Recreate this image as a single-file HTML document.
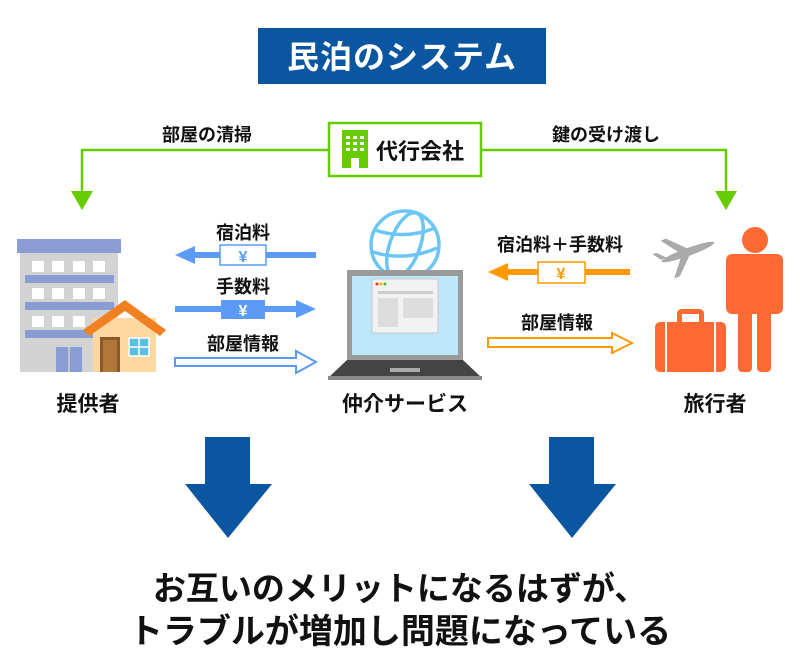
<!DOCTYPE html>
<html><head><meta charset="utf-8"><style>
html,body{margin:0;padding:0;background:#fff;}
svg{display:block;}
text{font-family:"Liberation Sans","Noto Sans CJK JP",sans-serif;font-weight:bold;fill:#111;}
</style></head><body>
<svg width="800" height="670" viewBox="0 0 800 670" xmlns="http://www.w3.org/2000/svg">
<rect x="258" y="28" width="288" height="56" fill="#0a56a0"/>
<text x="402" y="68" font-size="32" text-anchor="middle" letter-spacing="1" style="fill:#fff">民泊のシステム</text>
<polyline points="330,150 82,150 82,192" fill="none" stroke="#66cc00" stroke-width="2.5"/>
<polygon points="71,191 93,191 82,210" fill="#66cc00"/>
<polyline points="481,150 726,150 726,192" fill="none" stroke="#66cc00" stroke-width="2.5"/>
<polygon points="715,191 737,191 726,210" fill="#66cc00"/>
<rect x="329" y="123" width="152" height="53" fill="#fff" stroke="#66cc00" stroke-width="2.5"/>
<rect x="342" y="130" width="26" height="38" fill="#66cc00"/>
<g fill="#fff"><rect x="346" y="136" width="4" height="3"/><rect x="353" y="136" width="4" height="3"/><rect x="360" y="136" width="4" height="3"/>
<rect x="346" y="142" width="4" height="3"/><rect x="353" y="142" width="4" height="3"/><rect x="360" y="142" width="4" height="3"/>
<rect x="346" y="148" width="4" height="3"/><rect x="353" y="148" width="4" height="3"/><rect x="360" y="148" width="4" height="3"/>
<rect x="351" y="158" width="8" height="10"/></g>
<text x="376" y="159" font-size="22">代行会社</text>
<text x="207" y="141" font-size="18" text-anchor="middle">部屋の清掃</text>
<text x="606" y="141" font-size="18" text-anchor="middle">鍵の受け渡し</text>
<rect x="17" y="239" width="104" height="14" fill="#8a9cd4"/>
<rect x="20" y="253" width="98" height="119" fill="#d3d3d3"/>
<g fill="#fff">
<rect x="32" y="261" width="12" height="11"/><rect x="52" y="261" width="12" height="11"/><rect x="73" y="261" width="12" height="11"/><rect x="93" y="261" width="12" height="11"/>
<rect x="32" y="288" width="12" height="11"/><rect x="52" y="288" width="12" height="11"/><rect x="73" y="288" width="12" height="11"/><rect x="93" y="288" width="12" height="11"/>
<rect x="32" y="316" width="12" height="11"/><rect x="52" y="316" width="12" height="11"/><rect x="73" y="316" width="12" height="11"/>
</g>
<g fill="#8a9cd4"><rect x="25" y="275" width="89" height="8"/><rect x="25" y="302" width="89" height="8"/><rect x="25" y="330" width="70" height="8"/>
<rect x="56" y="347" width="26" height="25"/></g>
<line x1="69" y1="347" x2="69" y2="372" stroke="#d3d3d3" stroke-width="1.5"/>
<rect x="93" y="318" width="63" height="54" fill="#ffd7a0"/>
<polygon points="83,330 125,300 166,330 160,336 125,311 89,336" fill="#f08020"/>
<rect x="100" y="337" width="20" height="35" fill="#8b5a2b"/><rect x="103" y="340" width="14" height="32" fill="#b07838"/>
<rect x="129" y="338" width="20" height="18" fill="#5bc0e0" stroke="#fff" stroke-width="1.5"/>
<line x1="139" y1="338" x2="139" y2="356" stroke="#fff" stroke-width="1.5"/><line x1="129" y1="347" x2="149" y2="347" stroke="#fff" stroke-width="1.5"/>
<text x="88" y="411" font-size="21" text-anchor="middle">提供者</text>
<text x="243" y="239" font-size="18" text-anchor="middle">宿泊料</text>
<line x1="190" y1="255" x2="316" y2="255" stroke="#5b9bf5" stroke-width="6"/>
<polygon points="175,255 195,246 195,264" fill="#5b9bf5"/>
<rect x="220" y="245" width="46" height="20" fill="#fff" stroke="#5b9bf5" stroke-width="1.5"/>
<text x="243" y="262" font-size="16" text-anchor="middle" style="fill:#5b9bf5">¥</text>
<text x="243" y="293" font-size="18" text-anchor="middle">手数料</text>
<line x1="175" y1="309" x2="300" y2="309" stroke="#5b9bf5" stroke-width="6"/>
<polygon points="316,309 296,300 296,318" fill="#5b9bf5"/>
<rect x="221" y="300" width="44" height="19" fill="#5b9bf5"/>
<text x="243" y="316" font-size="16" text-anchor="middle" style="fill:#fff">¥</text>
<text x="243" y="350" font-size="18" text-anchor="middle">部屋情報</text>
<polygon points="175,358 296,358 296,351 316,362 296,373 296,366 175,366" fill="#fff" stroke="#5b9bf5" stroke-width="2"/>
<g fill="none" stroke="#6cc6f5" stroke-width="3.5">
<circle cx="405" cy="245" r="34"/>
<ellipse cx="405" cy="245" rx="15" ry="34" transform="rotate(20 405 245)"/>
<path d="M375,230 Q405,240 435,228"/><path d="M373,252 Q405,262 437,248"/>
</g>
<rect x="347" y="270" width="116" height="90" fill="#9a9a9a"/>
<rect x="352" y="276" width="106" height="79" fill="#bde8fa"/>
<rect x="372" y="279" width="66" height="54" fill="#f2f2f2" stroke="#c8c8c8"/>
<rect x="378" y="291" width="55" height="3" fill="#ccc"/>
<rect x="378" y="298" width="20" height="29" fill="#ddd"/><rect x="403" y="298" width="30" height="20" fill="#ddd"/>
<circle cx="377" cy="284" r="1.5" fill="#e33"/><circle cx="381" cy="284" r="1.5" fill="#eb0"/><circle cx="385" cy="284" r="1.5" fill="#4b4"/>
<polygon points="347,360 463,360 482,378 328,378" fill="#444"/>
<rect x="328" y="376" width="154" height="4" fill="#888"/>
<rect x="390" y="368" width="30" height="4" fill="#aaa"/>
<text x="405" y="411" font-size="21" text-anchor="middle">仲介サービス</text>
<text x="560" y="251" font-size="18" text-anchor="middle">宿泊料＋手数料</text>
<line x1="505" y1="272" x2="630" y2="272" stroke="#ff9900" stroke-width="6"/>
<polygon points="488,272 508,263 508,281" fill="#ff9900"/>
<rect x="538" y="262" width="47" height="21" fill="#fff" stroke="#ff9900" stroke-width="1.5"/>
<text x="561" y="279" font-size="16" text-anchor="middle" style="fill:#ff9900">¥</text>
<text x="557" y="329" font-size="18" text-anchor="middle">部屋情報</text>
<polygon points="488,338 612,338 612,333 632,343 612,353 612,347 488,347" fill="#fff" stroke="#ff9900" stroke-width="2"/>
<g fill="#aaa" transform="rotate(-20 688 252)">
<ellipse cx="688" cy="252" rx="28" ry="4"/>
<polygon points="680,250 690,250 672,232 666,232"/>
<polygon points="680,254 690,254 672,272 666,272"/>
<polygon points="660,250 666,250 658,242 654,242"/>
</g>
<g fill="#ff6a33">
<circle cx="755" cy="240" r="13"/>
<rect x="726" y="254" width="57" height="60" rx="6"/>
<rect x="738" y="300" width="14" height="72" rx="4"/><rect x="757" y="300" width="14" height="72" rx="4"/>
<rect x="655" y="322" width="71" height="50" rx="5"/>
<path d="M677,322 v-8 q0,-5 5,-5 h17 q5,0 5,5 v8 h-5 v-8 h-17 v8z"/>
</g>
<line x1="666" y1="322" x2="666" y2="372" stroke="#fff" stroke-width="2"/><line x1="715" y1="322" x2="715" y2="372" stroke="#fff" stroke-width="2"/>
<text x="715" y="411" font-size="21" text-anchor="middle">旅行者</text>
<polygon points="205,437 250,437 250,484 272,484 228,538 185,484 205,484" fill="#0a56a0"/>
<polygon points="549,437 594,437 594,484 616,484 572,538 529,484 549,484" fill="#0a56a0"/>
<text x="400" y="600" font-size="33" text-anchor="middle">お互いのメリットになるはずが、</text>
<text x="400" y="643" font-size="34" text-anchor="middle">トラブルが増加し問題になっている</text>
</svg>
</body></html>
